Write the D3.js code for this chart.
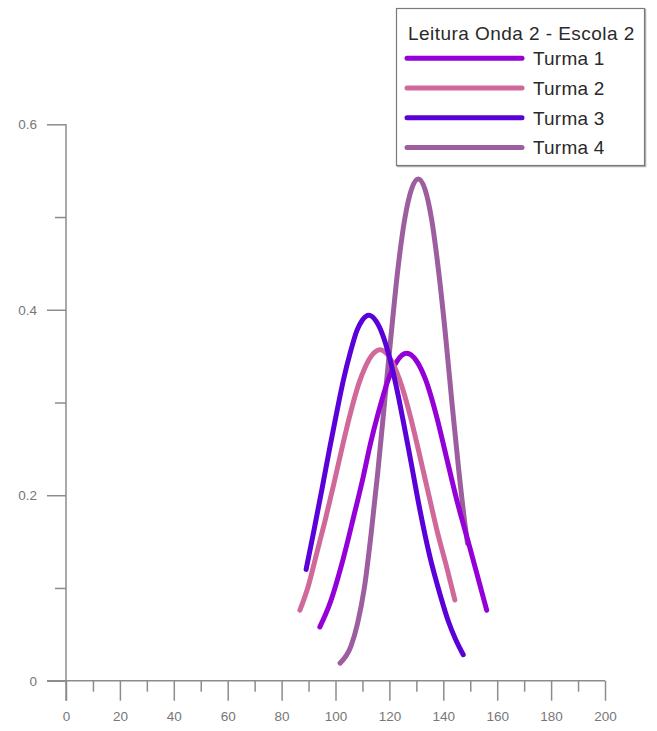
<!DOCTYPE html>
<html>
<head>
<meta charset="utf-8">
<script src="https://cdn.jsdelivr.net/npm/d3@7"></script>
<style>
  html, body { margin: 0; padding: 0; background: #fff; }
  svg { display: block; }
  text { font-family: "Liberation Sans", Arial, sans-serif; }
</style>
</head>
<body>
<script>
// ---------------- DATA ----------------
const seriesNames = ["Turma 1", "Turma 2", "Turma 3", "Turma 4"];
const legendTitle = "Leitura Onda 2 - Escola 2";

const turma1X = [94.2, 98, 102.9, 106.5, 110.3, 113, 115.9, 119.5, 122.7, 126.4, 130, 133.5, 137.5, 141, 144.9, 149.9, 156.1];
const turma1Y = [0.058, 0.084, 0.132, 0.174, 0.220, 0.256, 0.289, 0.324, 0.344, 0.353, 0.345, 0.324, 0.285, 0.243, 0.196, 0.143, 0.076];

const turma2X = [86.8, 90, 93, 96, 99.2, 102.5, 105.4, 108.5, 111, 113.5, 116.5, 119.5, 122.7, 125, 127.6, 131, 135.1, 138, 141.3, 144.3];
const turma2Y = [0.076, 0.103, 0.137, 0.171, 0.210, 0.252, 0.287, 0.319, 0.338, 0.351, 0.357, 0.351, 0.333, 0.314, 0.287, 0.246, 0.194, 0.158, 0.122, 0.087];

const turma3X = [89.1, 92, 95, 98, 100.5, 103, 105.5, 108, 110, 112.4, 115, 117.5, 120, 122.5, 125, 128, 131.4, 135, 138.8, 142, 144.5, 147.4];
const turma3Y = [0.120, 0.162, 0.207, 0.253, 0.290, 0.325, 0.354, 0.378, 0.389, 0.394, 0.388, 0.373, 0.349, 0.318, 0.282, 0.236, 0.183, 0.134, 0.093, 0.063, 0.045, 0.028];

const turma4X = [101.7, 105.7, 108.2, 110.7, 113.2, 115.7, 118.2, 120.7, 123.2, 125.7, 128.2, 130.7, 133.2, 135.7, 138.2, 140.7, 143.2, 145.7, 148.2, 149];
const turma4Y = [0.019, 0.037, 0.062, 0.100, 0.158, 0.225, 0.300, 0.375, 0.445, 0.498, 0.530, 0.541, 0.530, 0.497, 0.443, 0.376, 0.300, 0.228, 0.165, 0.148];

const seriesColors = ["#9600d8", "#d0689a", "#5a00d8", "#9c5e9e"];

const xTickValues = [0, 20, 40, 60, 80, 100, 120, 140, 160, 180, 200];
const xTickLabels = ["0", "20", "40", "60", "80", "100", "120", "140", "160", "180", "200"];
const xMinorTicks = [10, 30, 50, 70, 90, 110, 130, 150, 170, 190];
const yTickValues = [0, 0.2, 0.4, 0.6];
const yTickLabels = ["0", "0.2", "0.4", "0.6"];
const yMinorTicks = [0.1, 0.3, 0.5];

// ---------------- CHART ----------------
const W = 657, H = 731;
const svg = d3.select("body").append("svg").attr("width", W).attr("height", H);

const x = d3.scaleLinear().domain([0, 200]).range([66, 605]);
const y = d3.scaleLinear().domain([0, 0.6]).range([680.7, 124.3]);

const axisColor = "#8c8c8c";
const labelColor = "#777";

// x axis
const gx = svg.append("g").attr("transform", `translate(0,${y(0)})`);
gx.call(d3.axisBottom(x).tickValues(xTickValues).tickSize(20).tickSizeOuter(0)
  .tickPadding(11).tickFormat((d, i) => xTickLabels[i]));
gx.append("g").call(d3.axisBottom(x).tickValues(xMinorTicks).tickSize(11).tickFormat(""));
gx.selectAll(".domain").remove();
gx.append("line").attr("x1", x(0) - 19).attr("x2", x(200)).attr("y1", 0).attr("y2", 0);
gx.selectAll("line").attr("stroke", axisColor).attr("stroke-width", 1.5);
gx.selectAll("text").attr("fill", labelColor).attr("font-size", 13.5)
  .attr("font-family", "'Liberation Sans', Arial, sans-serif");

// y axis
const gy = svg.append("g").attr("transform", `translate(${x(0)},0)`);
gy.call(d3.axisLeft(y).tickValues(yTickValues).tickSize(19).tickSizeOuter(0)
  .tickPadding(10).tickFormat((d, i) => yTickLabels[i]));
gy.append("g").call(d3.axisLeft(y).tickValues(yMinorTicks).tickSize(11).tickFormat(""));
gy.selectAll(".domain").remove();
gy.append("line").attr("x1", 0).attr("x2", 0).attr("y1", y(0.6)).attr("y2", y(0) + 20);
gy.selectAll("line").attr("stroke", axisColor).attr("stroke-width", 1.5);
gy.selectAll("text").attr("fill", labelColor).attr("font-size", 13.5)
  .attr("font-family", "'Liberation Sans', Arial, sans-serif");

// curves
const allX = [turma1X, turma2X, turma3X, turma4X];
const allY = [turma1Y, turma2Y, turma3Y, turma4Y];
const line = d3.line().x(d => x(d[0])).y(d => y(d[1])).curve(d3.curveMonotoneX);
const drawOrder = [3, 0, 1, 2];
drawOrder.forEach(i => {
  const pts = allX[i].map((v, k) => [v, allY[i][k]]);
  svg.append("path").datum(pts).attr("d", line)
    .attr("fill", "none").attr("stroke", seriesColors[i])
    .attr("stroke-width", 5).attr("stroke-linecap", "round").attr("stroke-linejoin", "round");
});

// legend
const lg = svg.append("g");
lg.append("rect").attr("x", 397.5).attr("y", 9.5).attr("width", 248).attr("height", 157)
  .attr("fill", "none").attr("stroke", "#b0b0b0").attr("stroke-width", 1.5);
lg.append("rect").attr("x", 396.5).attr("y", 8.5).attr("width", 248).attr("height", 157)
  .attr("fill", "#fff").attr("stroke", "#7a7a7a").attr("stroke-width", 1.2);
lg.append("text").attr("x", 408).attr("y", 40).attr("font-size", 19).attr("letter-spacing", 0.45)
  .attr("fill", "#2a2a2a").text(legendTitle);
seriesNames.forEach((name, i) => {
  const yy = 58.3 + i * 29.7;
  lg.append("line").attr("x1", 407).attr("x2", 522).attr("y1", yy).attr("y2", yy)
    .attr("stroke", seriesColors[i]).attr("stroke-width", 5).attr("stroke-linecap", "round");
  lg.append("text").attr("x", 533).attr("y", yy + 7).attr("font-size", 19).attr("letter-spacing", 0.2)
    .attr("fill", "#2a2a2a").text(name);
});
</script>
</body>
</html>
